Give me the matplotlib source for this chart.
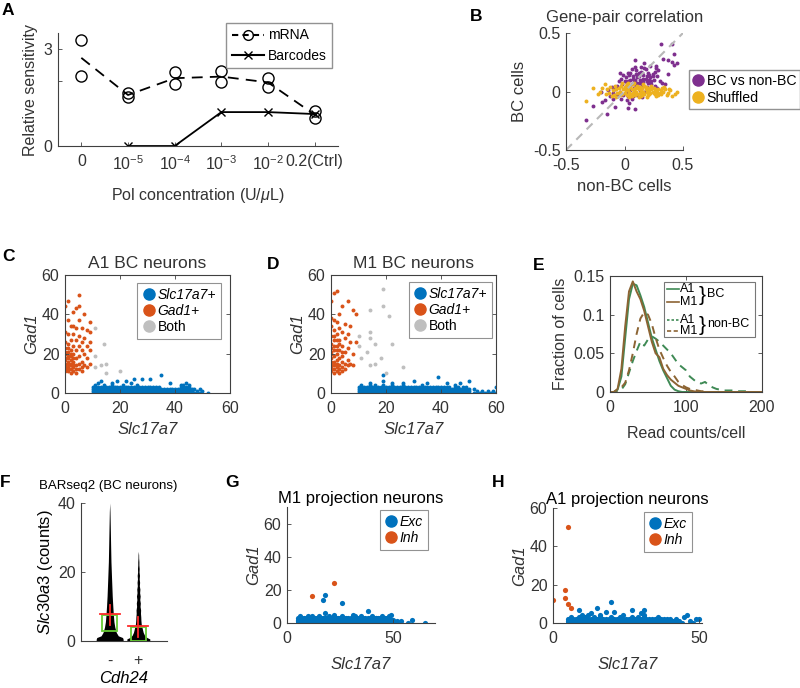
import numpy as np
import matplotlib
matplotlib.use('Agg')
import matplotlib.pyplot as plt
from matplotlib.lines import Line2D
from matplotlib.patches import Rectangle

plt.rcParams['font.family'] = ['Liberation Sans', 'DejaVu Sans']
plt.rcParams['mathtext.fontset'] = 'custom'
plt.rcParams['mathtext.rm'] = 'Liberation Sans'
plt.rcParams['mathtext.it'] = 'Liberation Sans:italic'
plt.rcParams['mathtext.bf'] = 'Liberation Sans:bold'

TXT = '#333333'
BLUE = (0.0, 0.447, 0.741)
ORANGE = (0.85, 0.325, 0.098)
GRAY = (0.75, 0.75, 0.75)
PURPLE = (0.494, 0.184, 0.556)
YELLOW = (0.929, 0.694, 0.125)
GREEN = '#3f8a55'
BROWN = '#8c6433'

# ---------------- A: polymerase titration ----------------
conc_labels = ['0', '$10^{-5}$', '$10^{-4}$', '$10^{-3}$', '$10^{-2}$', '0.2(Ctrl)']
mrna_rep1 = [3.28, 1.65, 2.28, 2.33, 2.11, 1.07]
mrna_rep2 = [2.18, 1.51, 1.92, 1.98, 1.84, 0.87]
mrna_mean = [2.73, 1.58, 2.10, 2.15, 1.97, 0.97]
barcodes = [np.nan, 0, 0, 1.05, 1.05, 0.99]

# ---------------- B: gene-pair correlation ----------------
bc_pairs = [(0.31, 0.41), (0.41, 0.41), (0.42, 0.32), (0.33, 0.28), (0.37, 0.27), (0.41, 0.25),
            (0.45, 0.24), (0.42, 0.23), (0.09, 0.27), (0.22, 0.22), (0.27, 0.22), (0.27, 0.20),
            (0.29, 0.18), (0.37, 0.15), (0.32, 0.07), (0.35, 0.06), (-0.04, 0.16), (0.03, 0.16),
            (0.10, 0.18), (0.14, 0.17), (0.18, 0.19), (0.20, 0.16), (0.16, 0.14), (0.12, 0.13),
            (0.07, 0.13), (0.01, 0.12), (-0.03, 0.11), (0.05, 0.10), (0.09, 0.10), (0.13, 0.10),
            (0.18, 0.11), (0.22, 0.12), (0.25, 0.10), (0.28, 0.13), (0.24, 0.15), (0.20, 0.07),
            (0.16, 0.08), (0.11, 0.07), (0.06, 0.06), (0.02, 0.07), (-0.02, 0.06), (-0.06, 0.05),
            (0.00, 0.03), (0.04, 0.04), (0.08, 0.03), (0.12, 0.04), (0.15, 0.05), (0.19, 0.04),
            (0.23, 0.06), (0.26, 0.05), (-0.08, 0.02), (-0.04, 0.00), (0.01, 0.00), (0.05, 0.01),
            (0.09, -0.01), (0.13, 0.01), (0.17, 0.00), (0.21, 0.02), (-0.10, -0.01), (-0.06, -0.03),
            (-0.01, -0.03), (0.03, -0.04), (0.07, -0.04), (0.11, -0.03), (0.15, -0.05), (-0.12, -0.04),
            (-0.03, -0.06), (0.02, -0.07), (0.06, -0.06), (-0.14, 0.01), (-0.11, 0.04), (0.10, 0.15),
            (0.06, 0.19), (0.14, 0.21), (0.17, 0.24), (0.19, 0.13), (0.23, 0.09), (0.30, 0.09),
            (0.28, 0.03), (-0.33, -0.24), (-0.27, -0.12), (-0.19, -0.09), (-0.15, -0.19), (-0.08, -0.13),
            (0.03, -0.14), (0.09, -0.15), (-0.17, -0.07), (-0.10, -0.06), (0.04, -0.10), (-0.20, 0.00),
            (0.00, 0.09), (0.04, 0.14), (0.08, 0.08), (0.12, 0.16), (0.16, 0.11), (0.21, 0.14),
            (0.26, 0.17), (0.10, 0.05), (-0.05, 0.09), (0.14, -0.01), (0.07, 0.11), (0.11, 0.12),
            (0.15, 0.16), (0.19, 0.09), (0.03, 0.09), (-0.01, 0.14), (0.17, 0.20), (0.21, 0.10),
            (0.13, 0.07), (0.24, 0.13), (0.05, 0.16), (0.09, 0.21)]
shuf_pairs = [(-0.33, -0.08), (-0.27, 0.03), (-0.23, -0.02), (-0.21, 0.00), (-0.17, 0.06), (-0.15, 0.02),
              (-0.13, -0.01), (-0.12, 0.04), (-0.10, 0.01), (-0.09, -0.03), (-0.08, 0.05), (-0.07, 0.02),
              (-0.06, -0.01), (-0.05, 0.03), (-0.04, 0.00), (-0.03, 0.05), (-0.02, -0.02), (-0.01, 0.02),
              (0.00, 0.04), (0.00, -0.01), (0.01, 0.01), (0.02, 0.06), (0.02, -0.03), (0.03, 0.02),
              (0.04, 0.00), (0.05, 0.04), (0.05, -0.02), (0.06, 0.02), (0.07, 0.06), (0.07, -0.01),
              (0.08, 0.01), (0.09, 0.03), (0.09, -0.03), (0.10, 0.00), (0.11, 0.05), (0.11, -0.02),
              (0.12, 0.02), (0.13, 0.04), (0.13, -0.01), (0.14, 0.01), (0.15, 0.03), (0.15, -0.03),
              (0.16, 0.00), (0.17, 0.05), (0.17, -0.02), (0.18, 0.02), (0.19, 0.00), (0.20, 0.03),
              (0.20, -0.03), (0.21, 0.01), (0.22, -0.01), (0.23, 0.02), (0.24, 0.00), (0.25, 0.03),
              (0.26, -0.02), (0.27, 0.01), (0.28, 0.00), (0.29, 0.02), (0.30, -0.01), (0.31, 0.01),
              (0.33, 0.00), (0.35, 0.02), (0.37, -0.01), (0.39, 0.01), (0.41, -0.04), (0.43, -0.02),
              (0.45, 0.00), (0.36, -0.03), (0.32, 0.03), (-0.19, 0.03), (-0.11, -0.04), (-0.02, 0.07),
              (0.04, -0.05), (0.08, 0.07), (0.12, -0.05), (0.16, 0.06), (0.19, -0.05), (0.23, 0.05),
              (0.27, -0.04), (-0.07, -0.05), (0.01, 0.05), (0.06, -0.04), (0.10, 0.03), (0.14, -0.04),
              (0.18, 0.04), (0.22, 0.03), (0.25, -0.01), (0.29, -0.03), (-0.04, -0.03), (0.03, 0.07),
              (-0.16, -0.02), (0.34, 0.04), (0.21, -0.02), (0.26, 0.02), (0.31, -0.02), (0.38, 0.02)]

# ---------------- C: A1 BC neurons ----------------
a1_inh = [(5, 50), (1, 47), (0, 44), (4, 43), (5, 44), (3, 41), (7, 40), (1, 37), (5, 37), (9, 36),
          (2, 34), (3, 34), (4, 33), (6, 33), (8, 32), (9, 31), (0, 31), (1, 30), (3, 30), (5, 29),
          (7, 28), (2, 27), (4, 27), (0, 26), (6, 26), (9, 26), (1, 25), (3, 24), (5, 24), (8, 24),
          (0, 23), (2, 22), (4, 22), (6, 22), (9, 22), (1, 21), (3, 20), (7, 20), (0, 20), (2, 19),
          (5, 19), (1, 18), (4, 18), (8, 18), (0, 17), (2, 17), (3, 16), (6, 16), (0, 15), (1, 15),
          (5, 15), (9, 15), (2, 14), (4, 14), (7, 14), (0, 13), (1, 13), (3, 13), (6, 13), (8, 13),
          (0, 12), (2, 12), (4, 12), (5, 12), (1, 11), (3, 11), (6, 11), (2, 10), (4, 10), (1, 19),
          (0, 18), (1, 16), (2, 15), (3, 18), (0, 21), (1, 23), (2, 20), (3, 14), (1, 12), (0, 11)]
a1_both = [(11, 33), (14, 25), (11, 19), (15, 15), (13, 14), (11, 13), (15, 10), (20, 11)]
a1_band_x = [10, 11, 12, 13, 14, 15, 16, 17, 18, 19, 20, 21, 22, 23, 24, 25, 26, 27, 28, 29,
             30, 31, 32, 33, 34, 35, 36, 37, 38, 39, 40, 41, 42, 43, 44, 45, 46]
a1_band_top = [3, 4, 3, 3, 4, 3, 3, 4, 3, 3, 3, 4, 3, 3, 3, 3, 4, 3, 3, 3,
               3, 3, 3, 3, 3, 2, 2, 2, 2, 2, 2, 2, 3, 3, 3, 3, 2]
a1_exc_extra = [(12, 5), (13, 6), (17, 5), (19, 6), (22, 6), (24, 5), (25, 7), (28, 7), (31, 7),
                (35, 9), (38, 5), (42, 4), (43, 4), (44, 5), (45, 4), (47, 2), (47, 0), (48, 1),
                (48, 0), (49, 2), (49, 0), (50, 1), (52, 0)]

# ---------------- D: M1 BC neurons ----------------
m1_inh = [(2, 52), (1, 51), (0, 47), (6, 47), (4, 44), (8, 42), (9, 40), (3, 40), (0, 38), (1, 37),
          (2, 36), (5, 35), (7, 34), (0, 34), (3, 33), (1, 32), (4, 31), (6, 30), (2, 30), (0, 29),
          (5, 28), (1, 27), (3, 27), (7, 26), (9, 26), (0, 25), (2, 24), (4, 24), (6, 23), (1, 22),
          (3, 22), (5, 21), (8, 20), (0, 21), (2, 20), (4, 19), (1, 19), (0, 18), (3, 18), (6, 17),
          (2, 17), (1, 16), (0, 16), (4, 16), (5, 15), (7, 15), (2, 15), (0, 14), (1, 14), (3, 14),
          (6, 14), (8, 14), (0, 13), (2, 13), (4, 13), (1, 12), (3, 12), (5, 12), (0, 11), (2, 11),
          (4, 11), (1, 10), (3, 10), (0, 12), (1, 24), (2, 27), (0, 23), (1, 29), (2, 22), (3, 25),
          (4, 21), (0, 20)]
m1_both = [(19, 53), (19, 44), (21, 39), (14, 42), (14, 31), (14, 28), (16, 25), (22, 25), (10, 29),
           (10, 24), (13, 21), (11, 18), (18, 18), (16, 15), (14, 14), (26, 13), (20, 10)]
m1_band_x = [10, 11, 12, 13, 14, 15, 16, 17, 18, 19, 20, 21, 22, 23, 24, 25, 26, 27, 28, 29,
             30, 31, 32, 33, 34, 35, 36, 37, 38, 39, 40, 41, 42, 43, 44, 45, 46, 47, 48, 49, 50]
m1_band_top = [3, 4, 3, 3, 4, 3, 4, 3, 3, 4, 3, 3, 4, 3, 3, 3, 4, 3, 3, 3,
               3, 3, 3, 4, 3, 3, 3, 3, 3, 3, 3, 3, 3, 3, 2, 3, 3, 2, 3, 3, 2]
m1_exc_extra = [(19, 9), (19, 6), (39, 8), (50, 6), (47, 5), (45, 4), (30, 6), (35, 5), (26, 5),
                (52, 2), (52, 0), (53, 1), (54, 0), (55, 1), (56, 0), (57, 1), (58, 0), (59, 1),
                (60, 0), (60, 3), (42, 5), (14, 5), (22, 5)]

# ---------------- E: read counts per cell ----------------
read_bins = np.arange(0, 205, 5)
a1_bc_frac = [0, 0, 0.003, 0.02, 0.07, 0.12, 0.14, 0.138, 0.125, 0.11, 0.09, 0.07, 0.055, 0.04,
              0.028, 0.018, 0.008, 0.003, 0.001, 0, 0, 0, 0, 0, 0, 0, 0, 0, 0, 0, 0, 0, 0, 0,
              0, 0, 0, 0, 0, 0, 0]
m1_bc_frac = [0, 0, 0.004, 0.03, 0.085, 0.13, 0.143, 0.13, 0.12, 0.105, 0.085, 0.065, 0.05, 0.045,
              0.03, 0.022, 0.016, 0.012, 0.008, 0.006, 0.004, 0.002, 0.001, 0, 0, 0, 0, 0, 0, 0,
              0, 0, 0, 0, 0, 0, 0, 0, 0, 0, 0]
a1_nonbc_frac = [0, 0, 0, 0.003, 0.01, 0.025, 0.04, 0.053, 0.065, 0.06, 0.068, 0.072, 0.069, 0.065,
                 0.06, 0.055, 0.05, 0.043, 0.036, 0.032, 0.028, 0.02, 0.016, 0.012, 0.011, 0.013,
                 0.009, 0.006, 0.004, 0.003, 0.002, 0.002, 0.002, 0.001, 0.001, 0.001, 0.001,
                 0, 0, 0, 0]
m1_nonbc_frac = [0, 0, 0.002, 0.006, 0.012, 0.028, 0.05, 0.075, 0.095, 0.103, 0.1, 0.088, 0.07,
                 0.055, 0.044, 0.034, 0.026, 0.02, 0.013, 0.009, 0.006, 0.004, 0.003, 0.002,
                 0.001, 0.001, 0, 0, 0, 0, 0, 0, 0, 0, 0, 0, 0, 0, 0, 0, 0]

# ---------------- F: Slc30a3 by Cdh24 ----------------
cdh_neg_y = [0, 0.5, 1, 1.5, 2.5, 4, 5.5, 7.4, 10, 13, 18, 23, 28, 33, 37.5, 40]
cdh_neg_w = [0.47, 0.47, 0.45, 0.30, 0.23, 0.18, 0.15, 0.13, 0.11, 0.09, 0.067, 0.045, 0.033,
             0.022, 0.011, 0.0]
cdh_pos_y = [0, 0.6, 1, 1.6, 2.5, 3.5, 5, 6, 7, 8, 9, 10, 11, 12, 13, 14, 15, 16, 17, 18, 19,
             20, 21, 22, 23, 24, 25, 26]
cdh_pos_w = [0.40, 0.40, 0.30, 0.22, 0.17, 0.14, 0.10, 0.09, 0.085, 0.075, 0.08, 0.06, 0.07,
             0.05, 0.065, 0.045, 0.055, 0.035, 0.045, 0.03, 0.04, 0.025, 0.03, 0.02, 0.02,
             0.012, 0.01, 0.0]
cdh_q1 = [2.8, 0.0]
cdh_q3 = [7.6, 4.0]
cdh_mean = [7.7, 4.3]
cdh_lo = [4.7, 1.2]
cdh_hi = [10.5, 7.0]

# ---------------- G: M1 projection neurons ----------------
m1p_band_x = [5, 6, 7, 8, 9, 10, 11, 12, 13, 14, 15, 16, 17, 18, 19, 20, 21, 22, 23, 24, 25, 26,
              27, 28, 29, 30, 31, 32, 33, 34, 35, 36, 37, 38, 39, 40, 41, 42, 43, 44, 45, 46, 47,
              48, 49, 50]
m1p_band_top = [3, 4, 3, 3, 3, 4, 3, 3, 3, 3, 4, 3, 3, 3, 3, 4, 3, 3, 3, 3, 3, 4, 3,
                3, 3, 3, 3, 4, 3, 3, 3, 3, 3, 3, 3, 4, 3, 3, 3, 3, 3, 3, 3, 2, 2, 2]
m1p_exc_extra = [(18, 17), (17, 14), (26, 12), (18, 6), (38, 7), (31, 5), (45, 4), (48, 4), (49, 5),
                 (54, 1), (59, 2), (57, 0), (65, 0), (52, 1), (22, 5), (35, 4), (12, 4), (42, 3),
                 (46, 1)]
m1p_inh = [(12, 16), (22, 24)]

# ---------------- H: A1 projection neurons ----------------
a1p_band_x = [5, 6, 7, 8, 9, 10, 11, 12, 13, 14, 15, 16, 17, 18, 19, 20, 21, 22, 23, 24, 25, 26,
              27, 28, 29, 30, 31, 32, 33, 34, 35, 36, 37, 38, 39, 40, 41, 42]
a1p_band_top = [2, 3, 2, 2, 3, 2, 3, 2, 2, 3, 2, 3, 2, 2, 2, 3, 2, 2, 3, 2,
                2, 2, 3, 2, 2, 2, 3, 2, 2, 2, 2, 3, 2, 2, 2, 2, 1, 1]
a1p_exc_extra = [(20, 11), (9, 7), (15, 8), (18, 6), (21, 6), (27, 7), (31, 7), (24, 4), (31, 4),
                 (12, 4), (10, 4), (13, 5), (16, 4), (46, 4), (45, 3), (42, 2), (43, 1), (44, 0),
                 (47, 1), (48, 0), (50, 2), (49, 2), (30, 5), (29, 3)]
a1p_inh = [(0, 12), (4, 17), (4, 13), (5, 10), (6, 8), (5, 50)]


def band_points(xs, tops, extra):
    px, py = [], []
    for x, t in zip(xs, tops):
        for y in range(t + 1):
            px.append(x)
            py.append(y)
    for x, y in extra:
        px.append(x)
        py.append(y)
    return px, py


def unzip(pairs):
    return [p[0] for p in pairs], [p[1] for p in pairs]


fig = plt.figure(figsize=(8, 6.88), dpi=100)


def px_axes(l, t, r, b):
    return fig.add_axes([l / 800, 1 - b / 688, (r - l) / 800, (b - t) / 688])


def style(ax, box=False, fs=11.5):
    for s in ['left', 'bottom', 'top', 'right']:
        ax.spines[s].set_color('#404040')
        ax.spines[s].set_linewidth(0.8)
    if not box:
        ax.spines['top'].set_visible(False)
        ax.spines['right'].set_visible(False)
    ax.tick_params(direction='in', length=3, width=0.6, colors='#404040', labelcolor=TXT,
                   labelsize=fs, top=box, right=box)
    ax.tick_params(axis='x', pad=6)
    ax.tick_params(axis='y', pad=4)


def letter(x, y, s):
    fig.text(x / 800, 1 - y / 688, s, fontsize=12.5, fontweight='bold', va='top', ha='left')


def legend(ax, handles, labels, anchor, loc, fs=10, italic=()):
    lg = ax.legend(handles, labels, loc=loc, bbox_to_anchor=anchor, fontsize=fs, frameon=True,
                   fancybox=False, borderaxespad=0, handletextpad=0.2, borderpad=0.35,
                   labelspacing=0.15, handlelength=0.9)
    lg.get_frame().set_edgecolor('#777777')
    lg.get_frame().set_linewidth(0.8)
    for i in italic:
        lg.get_texts()[i].set_fontstyle('italic')
    return lg


def dot(c, ms=8):
    return Line2D([], [], ls='none', marker='o', color=c, ms=ms)


# ---- A ----
ax = px_axes(58, 33, 338, 146)
style(ax)
xa = np.arange(1, 7)
ax.plot(xa, mrna_mean, color='k', lw=1.3, dashes=(6, 4))
ax.plot(xa, mrna_rep1, 'o', mfc='none', mec='k', ms=8, mew=1)
ax.plot(xa, mrna_rep2, 'o', mfc='none', mec='k', ms=8, mew=1)
ax.plot(xa, barcodes, color='k', lw=1.3, marker='x', ms=6, mew=1)
ax.set_xlim(0.5, 6.5)
ax.set_ylim(0, 3.5)
ax.set_xticks(xa)
ax.set_xticklabels(conc_labels)
ax.set_yticks([0, 2, 3])
ax.set_yticklabels(['0', '', '3'])
ax.set_ylabel('Relative sensitivity', fontsize=11.5, color=TXT)
ax.set_xlabel(r'Pol concentration (U/$\mu$L)', fontsize=11.5, color=TXT, labelpad=9)
lg = ax.legend([Line2D([], [], color='k', dashes=(3, 2), marker='o', mfc='none', ms=7),
                Line2D([], [], color='k', marker='x', ms=6)], ['mRNA', 'Barcodes'],
               loc='upper right', bbox_to_anchor=(0.979, 1.09), fontsize=10, fancybox=False,
               borderaxespad=0, handlelength=2.3, handletextpad=0.3, labelspacing=0.45)
lg.get_frame().set_edgecolor('#777777')
letter(2, 3, 'A')

# ---- B ----
ax = px_axes(566, 33, 683, 150)
style(ax)
ax.plot([-0.5, 0.5], [-0.5, 0.5], color='0.72', lw=1.5, dashes=(4, 3))
bx, by = unzip(bc_pairs)
sx, sy = unzip(shuf_pairs)
ax.scatter(bx, by, s=8, color=PURPLE, linewidths=0)
ax.scatter(sx, sy, s=8, color=YELLOW, linewidths=0)
ax.set_xlim(-0.5, 0.5)
ax.set_ylim(-0.5, 0.5)
ax.set_xticks([-0.5, 0, 0.5])
ax.set_yticks([-0.5, 0, 0.5])
ax.set_xticklabels(['-0.5', '0', '0.5'])
ax.set_yticklabels(['-0.5', '0', '0.5'])
ax.set_title('Gene-pair correlation', fontsize=12, color=TXT, pad=8)
ax.set_xlabel('non-BC cells', fontsize=12, color=TXT)
ax.set_ylabel('BC cells', fontsize=12, color=TXT)
lg = ax.legend([dot(PURPLE, 8), dot(YELLOW, 8)], ['BC vs non-BC', 'Shuffled'], loc='upper left',
               bbox_to_anchor=(1.05, 0.684), fontsize=10.2, fancybox=False, borderaxespad=0,
               handletextpad=0.25, borderpad=0.3, labelspacing=0.2, handlelength=0.7)
lg.get_frame().set_edgecolor('#777777')
letter(470, 9, 'B')


# ---- C, D ----
def bc_panel(l, r, title, inh, both, bx_, bt_, extra, anchor):
    ax = px_axes(l, 275, r, 393)
    style(ax, box=True)
    ex, ey = band_points(bx_, bt_, extra)
    ix, iy = unzip(inh)
    gx, gy = unzip(both)
    ax.scatter(ex, ey, s=8, color=BLUE, linewidths=0)
    ax.scatter(ix, iy, s=8, color=ORANGE, linewidths=0)
    ax.scatter(gx, gy, s=8, color=GRAY, linewidths=0)
    ax.set_xlim(0, 60)
    ax.set_ylim(0, 60)
    ax.set_xticks([0, 20, 40, 60])
    ax.set_yticks([0, 20, 40, 60])
    ax.set_title(title, fontsize=12.5, color=TXT, pad=5)
    ax.set_xlabel('Slc17a7', fontsize=12, color=TXT, fontstyle='italic')
    ax.set_ylabel('Gad1', fontsize=12, color=TXT, labelpad=2, fontstyle='italic')
    legend(ax, [dot(BLUE), dot(ORANGE), dot(GRAY)], ['Slc17a7+', 'Gad1+', 'Both'], anchor,
           'upper right', italic=(0, 1))
    return ax


bc_panel(65, 230, 'A1 BC neurons', a1_inh, a1_both, a1_band_x, a1_band_top, a1_exc_extra,
         (0.945, 0.932))
letter(2, 249, 'C')
bc_panel(331, 496, 'M1 BC neurons', m1_inh, m1_both, m1_band_x, m1_band_top, m1_exc_extra,
         (0.976, 0.94))
letter(267, 257, 'D')

# ---- E ----
ax = px_axes(610, 276, 762, 392)
style(ax, box=True)
ax.plot(read_bins, a1_nonbc_frac, color=GREEN, lw=1.4, dashes=(4, 3))
ax.plot(read_bins, m1_nonbc_frac, color=BROWN, lw=1.4, dashes=(4, 3))
ax.plot(read_bins, a1_bc_frac, color=GREEN, lw=1.4)
ax.plot(read_bins, m1_bc_frac, color=BROWN, lw=1.4)
ax.set_xlim(0, 200)
ax.set_ylim(0, 0.15)
ax.set_xticks([0, 100, 200])
ax.set_yticks([0, 0.05, 0.1, 0.15])
ax.set_yticklabels(['0', '0.05', '0.1', '0.15'])
ax.set_xlabel('Read counts/cell', fontsize=11.5, color=TXT, labelpad=8)
ax.set_ylabel('Fraction of cells', fontsize=11.5, color=TXT)
ax.add_patch(Rectangle((0.355, 0.474), 0.6, 0.474, transform=ax.transAxes, facecolor='white',
                       edgecolor='#777777', lw=0.8, zorder=5))
rows = [0.885, 0.78, 0.62, 0.525]
row_style = [(GREEN, None), (BROWN, None), (GREEN, (1.5, 1.2)), (BROWN, (2.5, 1.5))]
for r, (c, d), lab in zip(rows, row_style, ['A1', 'M1', 'A1', 'M1']):
    kw = {} if d is None else {'dashes': d}
    ax.plot([0.375, 0.455], [r, r], transform=ax.transAxes, color=c, lw=1.2, zorder=6, **kw)
    ax.text(0.46, r, lab, transform=ax.transAxes, fontsize=9, va='center', zorder=6, color='k')
for pair, lab in [((rows[0], rows[1]), 'BC'), ((rows[2], rows[3]), 'non-BC')]:
    yc = (pair[0] + pair[1]) / 2
    ax.text(0.58, yc, '}', transform=ax.transAxes, fontsize=15, va='center', ha='left',
            zorder=6, fontweight='light')
    ax.text(0.64, yc + 0.01, lab, transform=ax.transAxes, fontsize=9, va='center', zorder=6)
letter(533, 258, 'E')

# ---- F ----
ax = px_axes(81, 503, 167, 641)
style(ax)
ax.fill_betweenx(cdh_neg_y, 1 - np.array(cdh_neg_w), 1 + np.array(cdh_neg_w), color='k', lw=0)
ax.fill_betweenx(cdh_pos_y, 2 - np.array(cdh_pos_w), 2 + np.array(cdh_pos_w), color='k', lw=0)
for i, xc in enumerate([1, 2]):
    hw = 0.26
    ax.add_patch(Rectangle((xc - hw, cdh_q1[i]), 2 * hw, cdh_q3[i] - cdh_q1[i], fill=False,
                           edgecolor='#66cc33', lw=1.3, zorder=3))
    ax.plot([xc - 0.35, xc + 0.35], [cdh_mean[i], cdh_mean[i]], color='#ff2a2a', lw=1.3, zorder=4)
    ax.plot([xc, xc], [cdh_lo[i], cdh_hi[i]], color='#ff2a2a', lw=1.3, zorder=4)
ax.set_xlim(0, 3)
ax.set_ylim(0, 40)
ax.set_xticks([1, 2])
ax.set_xticklabels(['-', '+'])
ax.tick_params(axis='x', length=0, pad=9)
ax.set_yticks([0, 20, 40])
ax.set_xlabel('Cdh24', fontsize=12, color='k', labelpad=2, fontstyle='italic')
ax.set_ylabel('$\\mathit{Slc30a3}$ (counts)', fontsize=12, color='k', labelpad=2)
fig.text(108 / 800, 1 - 486 / 688, 'BARseq2 (BC neurons)', fontsize=9.5, ha='center',
         va='center', color='k')
letter(0, 475, 'F')


# ---- G, H ----
def proj_panel(l, r, top, title, bx_, bt_, extra, inh, xmax, ymax, yt, anchor):
    ax = px_axes(l, top, r, 623)
    style(ax)
    ex, ey = band_points(bx_, bt_, extra)
    ix, iy = unzip(inh)
    ax.scatter(ex, ey, s=14, color=BLUE, linewidths=0)
    ax.scatter(ix, iy, s=14, color=ORANGE, linewidths=0)
    ax.set_xlim(0, xmax)
    ax.set_ylim(0, ymax)
    ax.set_xticks([0, 50])
    ax.set_yticks(yt)
    ax.set_title(title, fontsize=12, color='k', pad=3)
    ax.set_xlabel('Slc17a7', fontsize=12, color=TXT, labelpad=8, fontstyle='italic')
    ax.set_ylabel('Gad1', fontsize=12, color=TXT, labelpad=2, fontstyle='italic')
    legend(ax, [dot(BLUE), dot(ORANGE)], ['Exc', 'Inh'], anchor, 'upper right', italic=(0, 1))
    return ax


proj_panel(287, 435, 507, 'M1 projection neurons', m1p_band_x, m1p_band_top, m1p_exc_extra,
           m1p_inh, 69.8, 70, [0, 20, 40, 60], (0.953, 0.974))
letter(225, 475, 'G')
proj_panel(553, 702, 508, 'A1 projection neurons', a1p_band_x, a1p_band_top, a1p_exc_extra,
           a1p_inh, 51, 60, [0, 20, 40, 60], (0.933, 0.965))
letter(492, 475, 'H')

fig.savefig('out.png', dpi=100)
